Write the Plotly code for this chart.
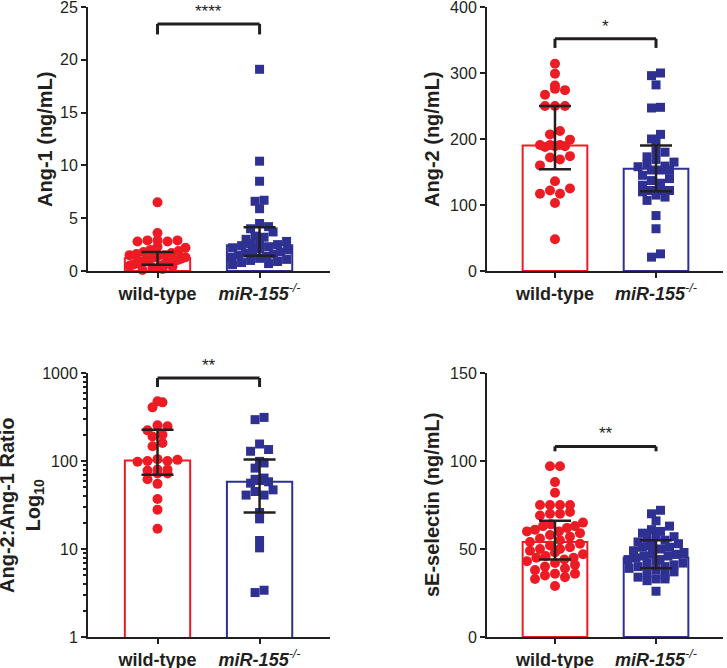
import math
import plotly.graph_objects as go

# ---------------- data ----------------
groups = ["wild-type", "miR-155-/-"]
tick_text = ["<b>wild-type</b>", "<b><i>miR-155</i></b><sup><i>-/-</i></sup>"]

ang1_wt = [6.5, 3.6, 2.9, 2.9, 2.8, 2.8, 2.9, 2.3, 2.2, 2.0, 1.9, 1.8, 1.7, 1.6,
           1.5, 1.5, 1.4, 1.3, 1.3, 1.2, 1.2, 1.1, 1.1, 1.0, 1.0, 0.9, 0.9, 0.8,
           0.8, 0.7, 0.7, 0.6, 0.6, 0.5, 0.5, 0.4, 0.3, 0.2, 0.1]
ang1_ko = [19.1, 10.4, 8.5, 6.7, 6.6, 5.9, 4.5, 4.2, 4.0, 3.7, 3.3, 3.2, 3.0, 2.9,
           2.8, 2.6, 2.5, 2.4, 2.3, 2.2, 2.1, 2.0, 1.9, 1.8, 1.7, 1.6, 1.5, 1.4,
           1.3, 1.2, 1.1, 1.0, 0.9, 0.8, 0.7, 0.6]
ang1_bar = [1.2, 2.45]
ang1_lo = [0.6, 1.45]
ang1_hi = [1.8, 4.15]

ang2_wt = [314, 299, 281, 274, 267, 276, 250, 250, 250, 212, 207, 199, 191, 189,
           188, 189, 191, 191, 174, 169, 160, 172, 136, 122, 125, 117, 117, 103, 48]
ang2_ko = [300, 296, 282, 248, 247, 207, 200, 196, 182, 180, 173, 169, 162, 165,
           159, 153, 158, 153, 153, 145, 137, 133, 140, 130, 122, 120, 122, 122,
           115, 107, 112, 84, 64, 21, 26]
ang2_bar = [190, 155]
ang2_lo = [154, 121]
ang2_hi = [250, 190]

ratio_wt = [476, 464, 407, 254, 248, 223, 199, 190, 147, 160, 103, 100, 98, 105,
            100, 80, 72, 72, 80, 78, 55, 62, 37, 28, 17]
ratio_ko = [313, 295, 156, 129, 135, 95, 99, 83, 64, 62, 60, 58, 56, 47, 45, 41,
            41, 26, 22, 12.5, 10.3, 3.4, 3.2]
ratio_bar = [101, 58]
ratio_lo = [70, 26]
ratio_hi = [227, 104]

sel_wt = [97, 97, 88, 82, 75, 75, 75, 75, 71, 70, 70, 69, 65, 64, 63, 63, 62, 61,
          60, 60, 59, 58, 57, 56, 55, 54, 53, 52, 51, 50, 50, 49, 48, 47, 46, 45,
          45, 44, 43, 42, 41, 40, 39, 38, 36, 36, 35, 34, 33, 29]
sel_ko = [72, 70, 66, 63, 61, 60, 59, 58, 57, 56, 55, 54, 53, 52, 51, 51, 50, 49,
          48, 48, 47, 46, 46, 45, 44, 44, 43, 42, 42, 41, 40, 40, 39, 38, 37, 36,
          35, 34, 33, 33, 32, 26]
sel_bar = [54, 45]
sel_lo = [44, 39]
sel_hi = [66, 55]

y_titles = ["<b>Ang-1 (ng/mL)</b>", "<b>Ang-2 (ng/mL)</b>",
            "<b>Ang-2:Ang-1 Ratio</b><br><b>Log<sub>10</sub></b>",
            "<b>sE-selectin (ng/mL)</b>"]
stars = ["****", "*", "**", "**"]
bracket_top = [23.4, 352, 877, 108.3]
bracket_foot = [22.4, 338, 693, 105.5]

# ---------------- layout geometry ----------------
W, H = 727, 668
RED = "#ED1C24"
BLUE = "#2E3192"
INK = "#231F20"
FONT = "Liberation Sans, Arial, sans-serif"


def px_x(px):
    return min(1.0, max(0.0, px / W))


def px_y(py):
    return min(1.0, max(0.0, 1 - py / H))


xdom_left = [px_x(88), px_x(330)]
xdom_right = [px_x(487), px_x(723)]
ydom_top = [px_y(271), px_y(7)]
ydom_bot = [px_y(637), px_y(373)]
xr_left = [-0.681, 1.69]
xr_right = [-0.673, 1.663]

panels = [
    dict(wt=ang1_wt, ko=ang1_ko, bar=ang1_bar, lo=ang1_lo, hi=ang1_hi,
         xd=xdom_left, yd=ydom_top, xr=xr_left, yr=[0, 25], dtick=5, log=False),
    dict(wt=ang2_wt, ko=ang2_ko, bar=ang2_bar, lo=ang2_lo, hi=ang2_hi,
         xd=xdom_right, yd=ydom_top, xr=xr_right, yr=[0, 400], dtick=100, log=False),
    dict(wt=ratio_wt, ko=ratio_ko, bar=ratio_bar, lo=ratio_lo, hi=ratio_hi,
         xd=xdom_left, yd=ydom_bot, xr=xr_left, yr=[0, 3], dtick=1, log=True),
    dict(wt=sel_wt, ko=sel_ko, bar=sel_bar, lo=sel_lo, hi=sel_hi,
         xd=xdom_right, yd=ydom_bot, xr=xr_right, yr=[0, 150], dtick=50, log=False),
]


def rows_layout(vals, to_px, d, half_max):
    """Scatter-dot layout: points grouped in rows, spread sideways, squeezed
    to stay within +-half_max px of the column centre."""
    rows = {}
    for i, v in enumerate(vals):
        r = int(round(to_px(v) / d))
        rows.setdefault(r, []).append(i)
    offs = [0.0] * len(vals)
    for r, idx in rows.items():
        idx.sort(key=lambda i: vals[i])
        m = len(idx)
        if m == 1:
            continue
        s = min(d, 2 * half_max / (m - 1))
        order = sorted(range(m), key=lambda j: (j % 2, j))
        for pos, j in enumerate(order):
            offs[idx[j]] = (pos - (m - 1) / 2) * s
    return offs


fig = go.Figure()
shapes = []
annotations = []

for k, p in enumerate(panels):
    n = "" if k == 0 else str(k + 1)
    xa, ya = "x" + n, "y" + n
    xpx = (p["xd"][1] - p["xd"][0]) * W / (p["xr"][1] - p["xr"][0])
    plot_h = (p["yd"][1] - p["yd"][0]) * H
    ypx = plot_h / (p["yr"][1] - p["yr"][0])
    if p["log"]:
        to_px = lambda v, s=ypx: math.log10(v) * s
    else:
        to_px = lambda v, s=ypx: v * s

    # bars
    fig.add_trace(go.Bar(
        x=[0, 1], y=p["bar"], width=0.64, xaxis=xa, yaxis=ya,
        marker=dict(color="white", line=dict(color=[RED, BLUE], width=2)),
        showlegend=False, hoverinfo="skip"))

    # points
    for gi, (vals, col, sym, size) in enumerate(
            [(p["wt"], RED, "circle", 10), (p["ko"], BLUE, "square", 9)]):
        offs = rows_layout(vals, to_px, size, 28)
        fig.add_trace(go.Scatter(
            x=[gi + o / xpx for o in offs], y=vals, mode="markers",
            xaxis=xa, yaxis=ya, cliponaxis=False, showlegend=False,
            marker=dict(color=col, symbol=sym, size=size, line=dict(width=0))))

    # error bars
    fig.add_trace(go.Scatter(
        x=[0, 1], y=p["bar"], mode="markers", xaxis=xa, yaxis=ya,
        marker=dict(color="rgba(0,0,0,0)", size=1), showlegend=False,
        cliponaxis=False,
        error_y=dict(type="data", symmetric=False,
                     array=[h - b for h, b in zip(p["hi"], p["bar"])],
                     arrayminus=[b - l for b, l in zip(p["bar"], p["lo"])],
                     color=INK, thickness=2.5, width=16)))

    # axes
    axis_common = dict(showline=True, linewidth=2, linecolor=INK, ticks="outside",
                       tickwidth=2, ticklen=5, tickcolor=INK, showgrid=False,
                       zeroline=False, automargin=False, ticklabeloverflow="allow",
                       tickfont=dict(family=FONT, size=16, color=INK))
    xkey = "xaxis" + n
    ykey = "yaxis" + n
    fig.layout[xkey] = dict(axis_common, domain=p["xd"], range=p["xr"], anchor=ya,
                            tickmode="array", tickvals=[0, 1], ticktext=tick_text,
                            tickfont=dict(family=FONT, size=18, color=INK),
                            fixedrange=True)
    if p["log"]:
        minor_vals = [m * 10 ** e for e in range(0, 3) for m in range(2, 10)]
        fig.layout[ykey] = dict(axis_common, domain=p["yd"], range=p["yr"], anchor=xa,
                                type="log", tickmode="array",
                                tickvals=[1, 10, 100, 1000],
                                ticktext=["1", "10", "100", "1000"],
                                minor=dict(ticks="outside", ticklen=3, tickwidth=1.5,
                                           tickcolor=INK, tickmode="array",
                                           tickvals=minor_vals, showgrid=False))
    else:
        fig.layout[ykey] = dict(axis_common, domain=p["yd"], range=p["yr"], anchor=xa,
                                dtick=p["dtick"], tick0=0)

    # significance bracket (shapes take raw data values; annotations take log)
    top, foot = bracket_top[k], bracket_foot[k]
    line = dict(color=INK, width=3)
    shapes += [
        dict(type="line", xref=xa, yref=ya, x0=0, x1=1, y0=top, y1=top, line=line),
        dict(type="line", xref=xa, yref=ya, x0=0, x1=0, y0=top, y1=foot, line=line),
        dict(type="line", xref=xa, yref=ya, x0=1, x1=1, y0=top, y1=foot, line=line),
    ]
    ann_y = math.log10(top) if p["log"] else top
    annotations.append(dict(xref=xa, yref=ya, x=0.5, y=ann_y, yanchor="bottom",
                            text=stars[k], showarrow=False, yshift=1,
                            font=dict(family=FONT, size=17, color=INK)))

# y-axis titles
title_x = [px_x(45), px_x(432), px_x(21), px_x(432)]
title_y = [(ydom_top[0] + ydom_top[1]) / 2, (ydom_top[0] + ydom_top[1]) / 2,
           (ydom_bot[0] + ydom_bot[1]) / 2, (ydom_bot[0] + ydom_bot[1]) / 2]
for k in range(4):
    annotations.append(dict(xref="paper", yref="paper", x=title_x[k], y=title_y[k],
                            xanchor="center", yanchor="middle", textangle=-90,
                            text=y_titles[k], showarrow=False,
                            font=dict(family=FONT, size=20, color=INK)))

fig.update_layout(width=W, height=H, margin=dict(l=0, r=0, t=0, b=0),
                  plot_bgcolor="white", paper_bgcolor="white",
                  shapes=shapes, annotations=annotations, showlegend=False,
                  barmode="overlay")
fig.write_html("out.html",
               config={"displayModeBar": False},
               post_script="document.body.style.margin='0';"
                           "document.body.style.overflow='hidden';")
